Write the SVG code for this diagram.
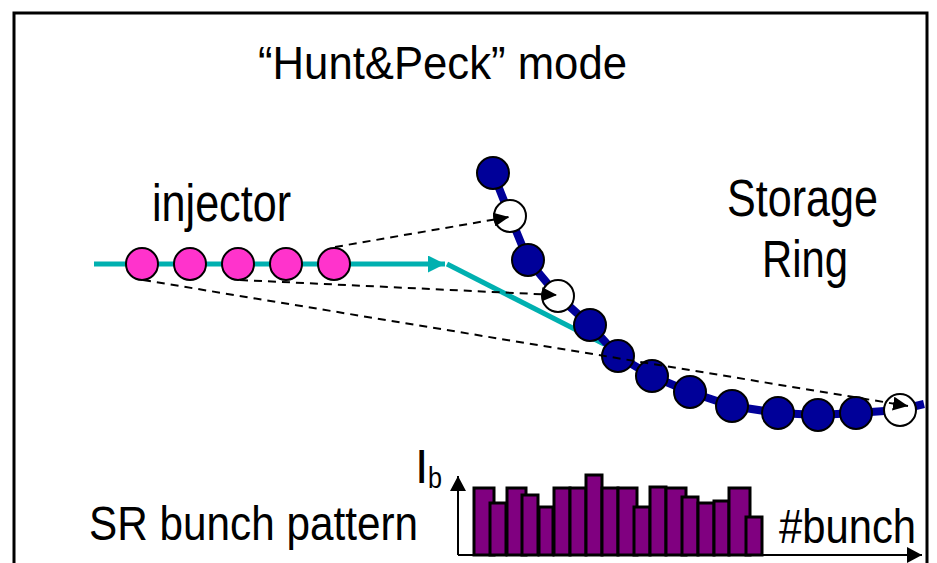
<svg xmlns="http://www.w3.org/2000/svg" width="937" height="563" viewBox="0 0 937 563">
<defs>
<style>
.t{font-family:"Liberation Sans",Arial,sans-serif;fill:#000}
.pink{fill:#FF33CC;stroke:#000;stroke-width:2}
.navy{fill:#000099;stroke:#000;stroke-width:2}
.white{fill:#fff;stroke:#000;stroke-width:2}
.dash{fill:none;stroke:#000;stroke-width:2;stroke-dasharray:8 6}
.bar{fill:#800080;stroke:#000;stroke-width:3}
.axis{fill:none;stroke:#000;stroke-width:2}
</style>
<marker id="ah" markerUnits="userSpaceOnUse" markerWidth="16" markerHeight="14" refX="15" refY="7" orient="auto">
<path d="M0,0 L15,7 L0,14 z" fill="#000"/>
</marker>
<marker id="ahTeal" markerUnits="userSpaceOnUse" markerWidth="18" markerHeight="17" refX="17" refY="8.5" orient="auto">
<path d="M0,0 L17,8.5 L0,17 z" fill="#00B0B0"/>
</marker>
<marker id="ahAxis" markerUnits="userSpaceOnUse" markerWidth="16" markerHeight="16" refX="15" refY="8" orient="auto">
<path d="M0,0 L15,8 L0,16 z" fill="#000"/>
</marker>
</defs>
<rect width="937" height="563" fill="#fff"/>
<path d="M14,563 V13 H927 V563" fill="none" stroke="#000" stroke-width="3"/>

<g id="title"><text class="t" x="258" y="79" font-size="46" textLength="369" lengthAdjust="spacingAndGlyphs">“Hunt&amp;Peck” mode</text></g>

<g id="connectors">
<line x1="94" y1="264" x2="445" y2="264" stroke="#00B0B0" stroke-width="5" marker-end="url(#ahTeal)"/>
<line x1="447" y1="264" x2="604" y2="344" stroke="#00B0B0" stroke-width="5"/>
<polyline points="493,173 510,216 528,260 558,296 590,325 618,356 652,376 690,392 732,406 778,413 818,415 856,413 899,410 924,404" fill="none" stroke="#000099" stroke-width="8" stroke-linejoin="round"/>
</g>

<g id="injector">
<text class="t" x="152" y="221" font-size="51" textLength="139" lengthAdjust="spacingAndGlyphs">injector</text>
<circle class="pink" cx="142" cy="264" r="16"/>
<circle class="pink" cx="190" cy="264" r="16"/>
<circle class="pink" cx="238" cy="264" r="16"/>
<circle class="pink" cx="286" cy="264" r="16"/>
<circle class="pink" cx="334" cy="264" r="16"/>
</g>

<g id="storage-ring">
<text class="t" x="727" y="216" font-size="51" textLength="151" lengthAdjust="spacingAndGlyphs">Storage</text>
<text class="t" x="762" y="277" font-size="51" textLength="86" lengthAdjust="spacingAndGlyphs">Ring</text>
<circle class="navy" cx="493" cy="173" r="16"/>
<circle class="white" cx="510" cy="216" r="16"/>
<circle class="navy" cx="528" cy="260" r="16"/>
<circle class="white" cx="558" cy="296" r="16"/>
<circle class="navy" cx="590" cy="325" r="16"/>
<circle class="navy" cx="618" cy="356" r="16"/>
<circle class="navy" cx="652" cy="376" r="16"/>
<circle class="navy" cx="690" cy="392" r="16"/>
<circle class="navy" cx="732" cy="406" r="16"/>
<circle class="navy" cx="778" cy="413" r="16"/>
<circle class="navy" cx="818" cy="415" r="16"/>
<circle class="navy" cx="856" cy="413" r="16"/>
<circle class="white" cx="900" cy="410" r="16"/>
</g>

<g id="injection-paths">
<line class="dash" x1="335" y1="247" x2="509" y2="217" marker-end="url(#ah)"/>
<line class="dash" x1="240" y1="280" x2="557" y2="295" marker-end="url(#ah)"/>
<line class="dash" x1="143" y1="280" x2="908" y2="406" marker-end="url(#ah)"/>
</g>

<g id="bunch-pattern">
<text class="t" x="89" y="540" font-size="49" textLength="329" lengthAdjust="spacingAndGlyphs">SR bunch pattern</text>
<text class="t" x="415" y="483" font-size="48">I</text>
<text class="t" x="428" y="488" font-size="30" textLength="14" lengthAdjust="spacingAndGlyphs">b</text>
<line class="axis" x1="458" y1="555" x2="458" y2="476" marker-end="url(#ahAxis)"/>
<line class="axis" x1="458" y1="555" x2="922" y2="555" marker-end="url(#ahAxis)"/>
<rect class="bar" x="474" y="488" width="20" height="67"/>
<rect class="bar" x="490" y="503" width="16" height="52"/>
<rect class="bar" x="507" y="488" width="19" height="67"/>
<rect class="bar" x="522" y="495" width="16" height="60"/>
<rect class="bar" x="539" y="507" width="14" height="48"/>
<rect class="bar" x="554" y="488" width="16" height="67"/>
<rect class="bar" x="570" y="488" width="16" height="67"/>
<rect class="bar" x="586" y="475" width="16" height="80"/>
<rect class="bar" x="602" y="488" width="16" height="67"/>
<rect class="bar" x="618" y="488" width="19" height="67"/>
<rect class="bar" x="634" y="507" width="16" height="48"/>
<rect class="bar" x="650" y="487" width="16" height="68"/>
<rect class="bar" x="666" y="488" width="20" height="67"/>
<rect class="bar" x="682" y="497" width="16" height="58"/>
<rect class="bar" x="698" y="503" width="16" height="52"/>
<rect class="bar" x="714" y="501" width="15" height="54"/>
<rect class="bar" x="729" y="488" width="21" height="67"/>
<rect class="bar" x="746" y="517" width="16" height="38"/>
<text class="t" x="779" y="543" font-size="48" textLength="137" lengthAdjust="spacingAndGlyphs">#bunch</text>
</g>
</svg>
